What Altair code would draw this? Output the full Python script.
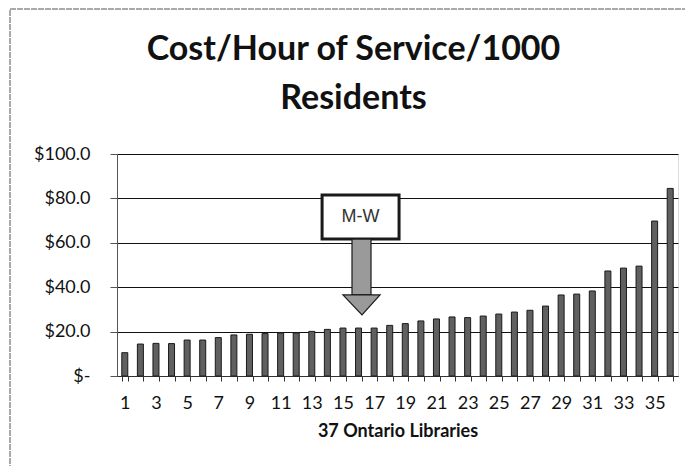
import altair as alt
import pandas as pd

libraries = list(range(1, 37))
cost = [10.5, 14.4, 14.7, 14.6, 16.2, 16.2, 17.3, 18.5, 18.8, 19.1, 19.4, 19.4,
        20.1, 21.0, 21.6, 21.6, 21.6, 22.8, 23.6, 24.8, 25.7, 26.6, 26.3, 27.0,
        27.9, 28.8, 29.6, 31.5, 36.5, 36.9, 38.3, 47.3, 48.6, 49.5, 69.8, 84.5]
title_lines = ["Cost/Hour of Service/1000", "Residents"]
y_ticks = [0, 20, 40, 60, 80, 100]

# annotation geometry (x in library-slot units from the left edge of the axis)
box = pd.DataFrame({"x": [13.16], "x2": [18.1], "y": [81.5], "y2": [61.7]})
shaft = pd.DataFrame({"x": [15.08], "x2": [16.30], "y": [61.7], "y2": [36.5]})
head = pd.DataFrame({"x": [14.5, 15.72, 16.88], "y": [36.5, 36.5, 36.5],
                     "y2": [36.5, 27.5, 36.5]})
label = pd.DataFrame({"x": [15.63], "y": [71.6], "t": ["M-W"]})

df = pd.DataFrame({"lib": libraries, "cost": cost})

FONT = "Lato"
W, H = 561, 222

yscale = alt.Scale(domain=[0, 100], nice=False)
yaxis = alt.Axis(values=y_ticks,
                 labelExpr="datum.value == 0 ? '$-\u00a0\u00a0' : '$' + format(datum.value, '.1f')",
                 tickSize=7, labelPadding=20, labelFontSize=18, labelFont=FONT,
                 labelColor="#111", domainColor="#555", tickColor="#555",
                 gridColor="#111", gridWidth=1, gridOpacity=1, title=None)

bars = alt.Chart(df).mark_bar(fill="#606060", stroke="#1a1a1a", strokeWidth=1, size=6).encode(
    x=alt.X("lib:O", title="37 Ontario Libraries",
            scale=alt.Scale(paddingInner=0.6, paddingOuter=0.3),
            axis=alt.Axis(labelExpr="datum.value % 2 == 1 ? datum.label : ''",
                          labelAngle=0, tickBand="extent", tickSize=5,
                          labelPadding=13, labelFontSize=18, labelFont=FONT,
                          labelColor="#111", titleFont=FONT, titleFontSize=18,
                          titleFontWeight="bold", titleColor="#111",
                          titlePadding=10, domainColor="#333", tickColor="#333",
                          grid=False)),
    y=alt.Y("cost:Q", scale=yscale, title=None, axis=yaxis),
)

ax = alt.X("x:Q", scale=alt.Scale(domain=[0, 36], nice=False, zero=False), axis=None)
ay = alt.Y("y:Q", scale=yscale, axis=yaxis)

frame = alt.Chart(pd.DataFrame({"a": [0]})).mark_rect(
    fill=None, stroke="#555", strokeWidth=1, strokeDash=[6, 1]).encode(
    x=alt.value(-107), x2=alt.value(580), y=alt.value(-145), y2=alt.value(330))

t1 = alt.Chart(pd.DataFrame({"t": [title_lines[0]]})).mark_text(
    font=FONT, fontSize=34, fontWeight="bold", color="#111", baseline="alphabetic",
    align="center").encode(x=alt.value(236.5), y=alt.value(-94), text="t:N")
t2 = alt.Chart(pd.DataFrame({"t": [title_lines[1]]})).mark_text(
    font=FONT, fontSize=34, fontWeight="bold", color="#111", baseline="alphabetic",
    align="center").encode(x=alt.value(236.5), y=alt.value(-45), text="t:N")

box_m = alt.Chart(box).mark_rect(fill="white", stroke="#1a1a1a", strokeWidth=3).encode(
    x=ax, x2="x2:Q", y=ay, y2="y2:Q")
shaft_m = alt.Chart(shaft).mark_rect(fill="#9a9a9a", stroke="#1a1a1a", strokeWidth=1.2).encode(
    x=ax, x2="x2:Q", y=ay, y2="y2:Q")
head_m = alt.Chart(head).mark_area(fill="#9a9a9a", stroke="#1a1a1a", strokeWidth=1.2,
                                   interpolate="linear").encode(
    x=ax, y=ay, y2="y2:Q")
text_m = alt.Chart(label).mark_text(font="Liberation Sans", fontSize=18, color="#333").encode(
    x=ax, y=ay, text="t:N")

annot = alt.layer(box_m, shaft_m, head_m, text_m)

chart = alt.layer(bars, annot, frame, t1, t2).resolve_scale(x="independent").properties(
    width=W, height=H,
    autosize=alt.AutoSizeParams(type="none"),
    padding={"left": 109, "top": 146, "right": 7, "bottom": 90},
).configure_view(stroke=None).configure(background="white")

chart.save("out.html", embed_options={"renderer": "svg", "actions": False})
